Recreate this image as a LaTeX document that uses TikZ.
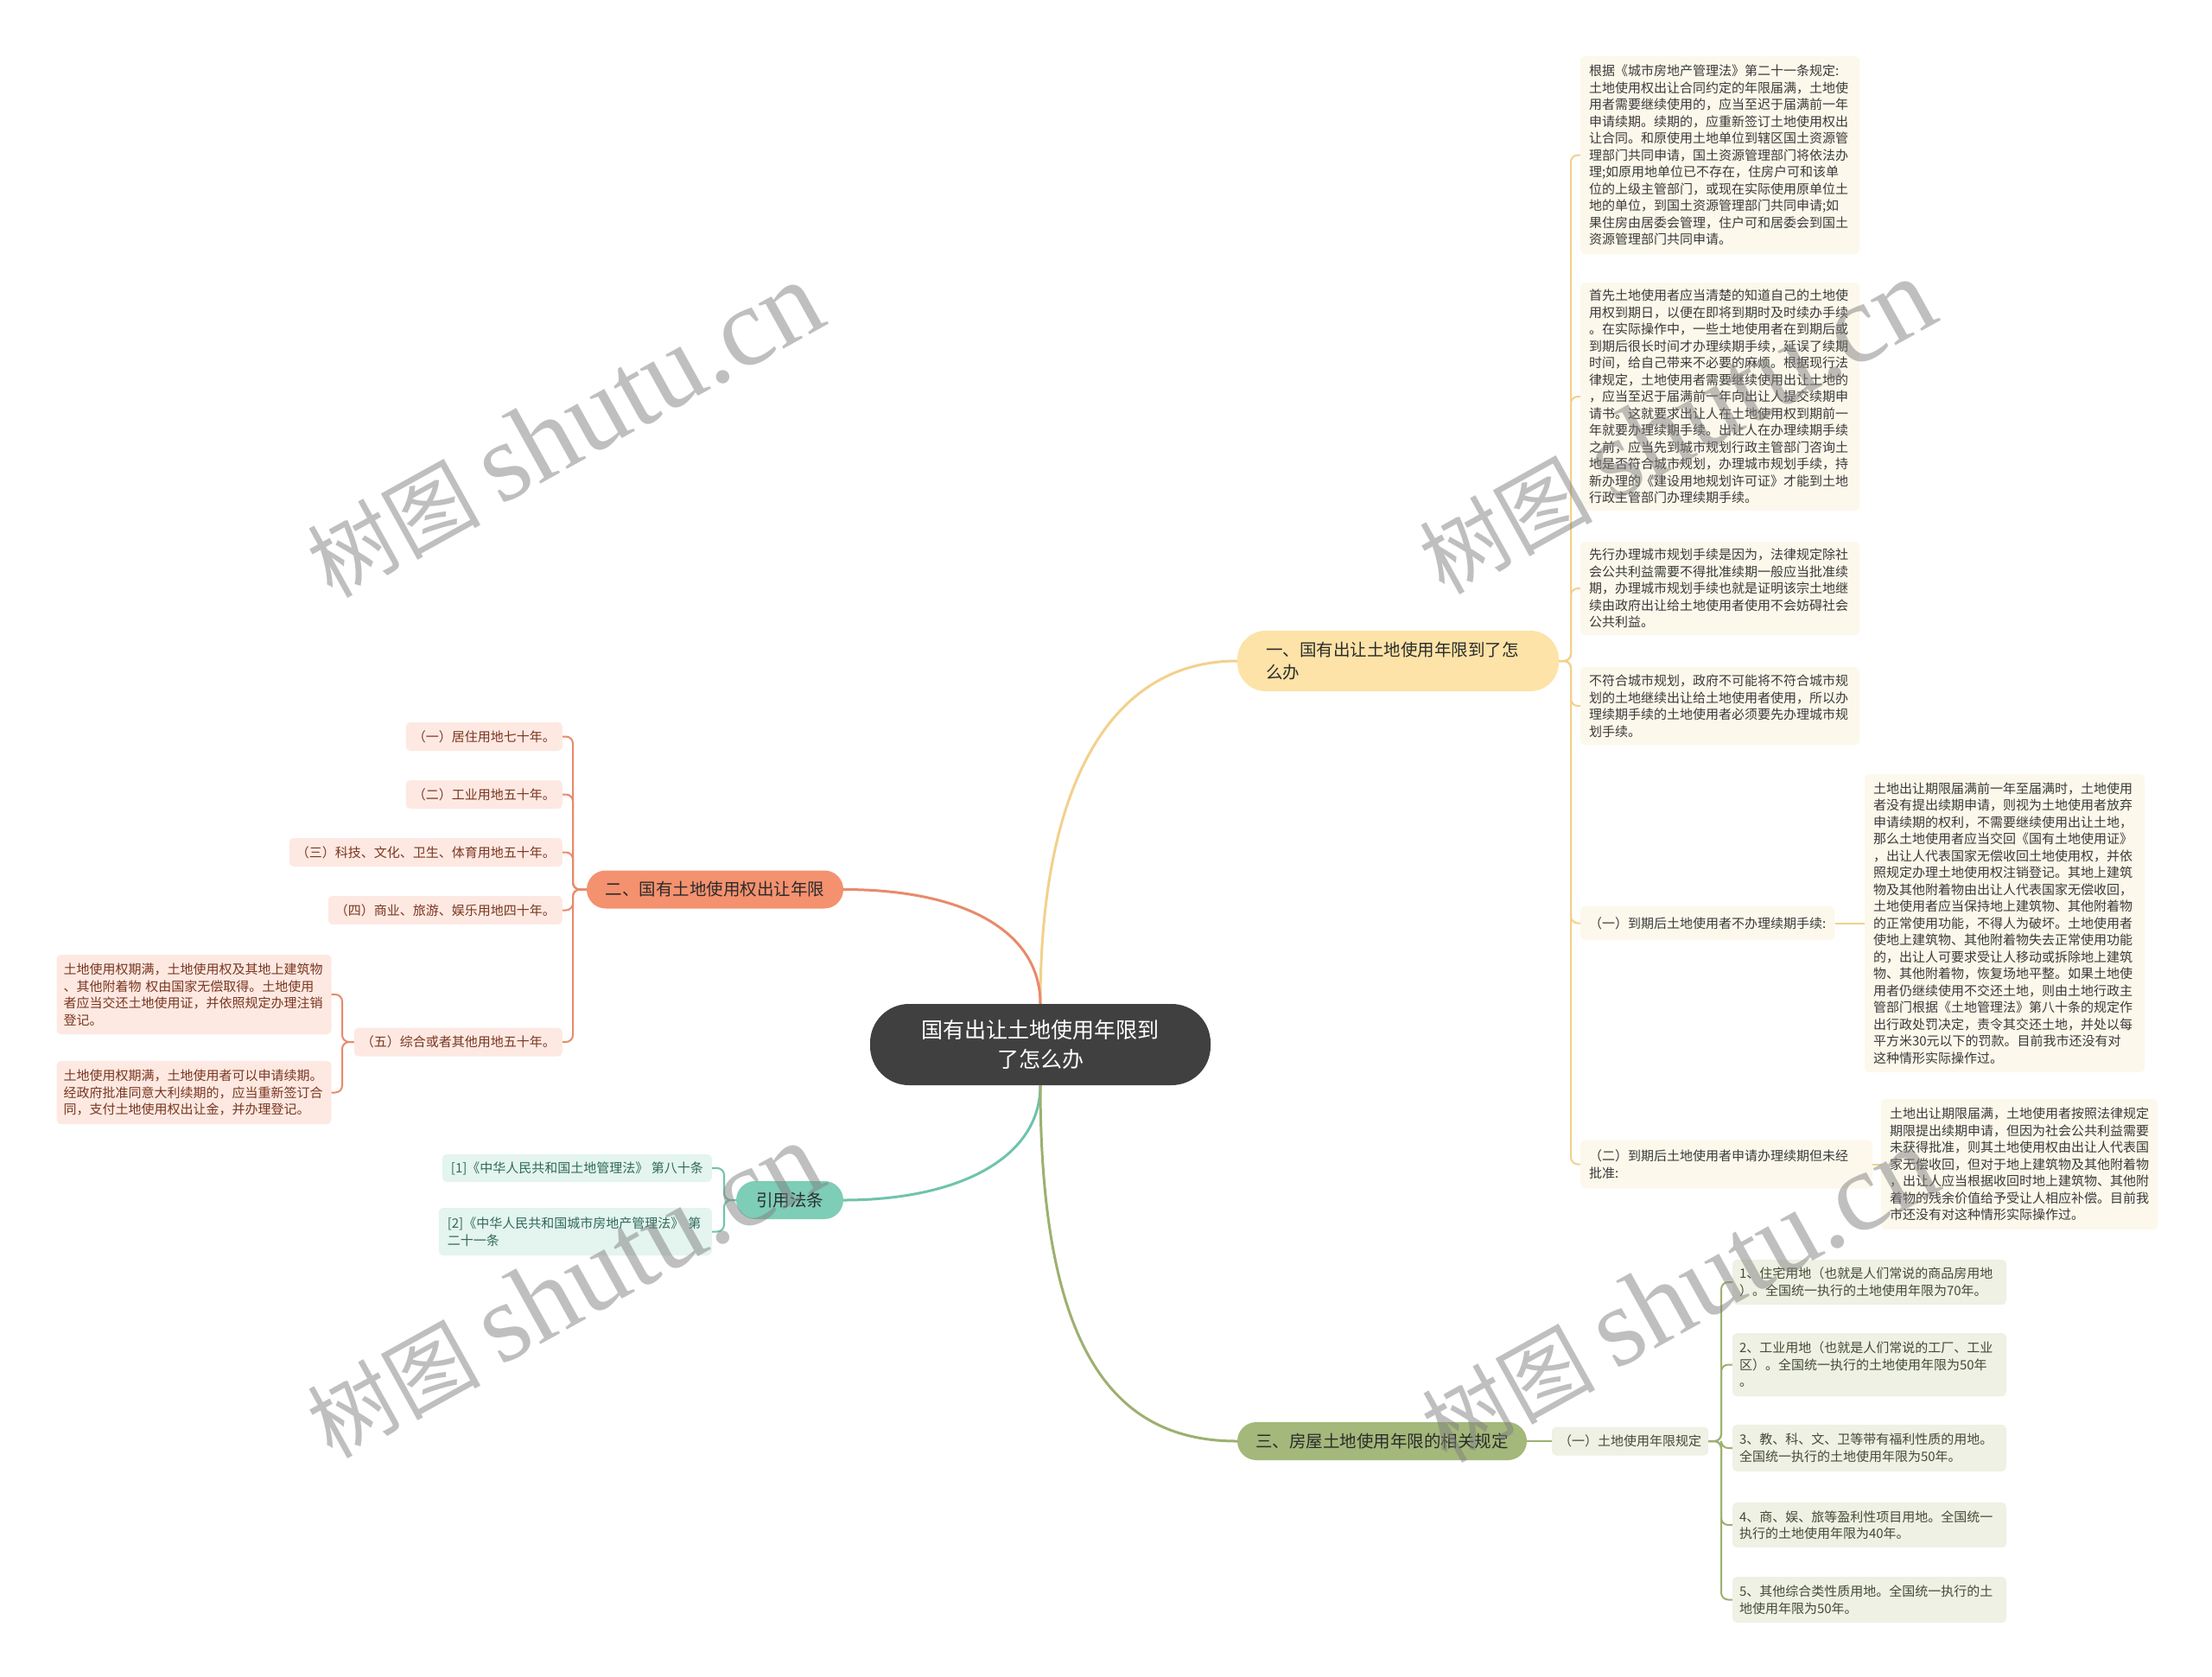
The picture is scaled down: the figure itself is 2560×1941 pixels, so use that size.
\documentclass[tikz,border=0pt]{standalone}
\usepackage{fontspec}
\setmainfont{Noto Sans CJK SC}
\newfontfamily\wmlatin{Liberation Serif}
\definecolor{cDark}{HTML}{404040}
\definecolor{cYelLn}{HTML}{F2D18B}
\definecolor{cYelF}{HTML}{FDE3A7}
\definecolor{cYelL}{HTML}{FCF8EB}
\definecolor{cSalF}{HTML}{F4916F}
\definecolor{cSalLn}{HTML}{E98A6B}
\definecolor{cSalL}{HTML}{FDE9E2}
\definecolor{cTealF}{HTML}{7ECDB6}
\definecolor{cTealLn}{HTML}{6FC3AC}
\definecolor{cTealL}{HTML}{E4F4EE}
\definecolor{cGrnF}{HTML}{A3B87A}
\definecolor{cGrnLn}{HTML}{9DB070}
\definecolor{cGrnL}{HTML}{EEF1E3}
\definecolor{cTxtY}{HTML}{3A3A3A}
\definecolor{cTxtS}{HTML}{7B3620}
\definecolor{cTxtT}{HTML}{2E6A5B}
\definecolor{cTxtG}{HTML}{454B36}
\definecolor{cTxtM}{HTML}{2B2B2B}
\tikzset{
  blk/.style={rounded corners=5, inner xsep=10, inner ysep=4, align=left},
  yblk/.style={blk, fill=cYelL, text=cTxtY},
  sblk/.style={blk, fill=cSalL, text=cTxtS, inner xsep=8},
  tblk/.style={blk, fill=cTealL, text=cTxtT},
  gblk/.style={blk, fill=cGrnL, text=cTxtG, inner xsep=8},
  fa/.style={font=\fontsize{15}{19.5}\selectfont},
  mainbr/.style={rounded corners=22, minimum height=44, align=center, text=cTxtM, font=\fontsize{19.5}{26}\selectfont, inner xsep=0, inner ysep=0},
  cline/.style={line width=3},
  bline/.style={line width=2, rounded corners=8},
  wm/.style={rotate=29, text=black!50, opacity=0.5, font=\fontsize{100}{100}\selectfont},
}
\begin{document}
\begin{tikzpicture}[x=1pt,y=-1pt]
\useasboundingbox (0,0) rectangle (2560,1941);
\fill[white] (0,0) rectangle (2560,1941);

% root
\node[fill=cDark, text=white, rounded corners=45, minimum width=394, minimum height=94, align=center, inner sep=0, font=\fontsize{25}{34}\selectfont] (root) at (1204,1209) {国有出让土地使用年限到\\了怎么办};

% main branches
\node[fill=cYelF, rounded corners=33, text width=306, inner xsep=33, inner ysep=0, minimum height=70, align=left, text=cTxtM, font=\fontsize{19.5}{26}\selectfont] (b1) at (1618,765) {一、国有出让土地使用年限到了怎\\么办};
\node[mainbr, fill=cSalF, minimum width=297] (b2) at (827.5,1029.5) {二、国有土地使用权出让年限};
\node[mainbr, fill=cTealF, minimum width=124] (rf) at (914,1389) {引用法条};
\node[mainbr, fill=cGrnF, minimum width=335] (b3) at (1599.5,1668) {三、房屋土地使用年限的相关规定};

% branch 1 children
\node[yblk,fa,text width=303,minimum height=229] (c1) at (1990.5,179.5) {根据《城市房地产管理法》第二十一条规定:\\土地使用权出让合同约定的年限届满，土地使\\用者需要继续使用的，应当至迟于届满前一年\\申请续期。续期的，应重新签订土地使用权出\\让合同。和原使用土地单位到辖区国土资源管\\理部门共同申请，国土资源管理部门将依法办\\理;如原用地单位已不存在，住房户可和该单\\位的上级主管部门，或现在实际使用原单位土\\地的单位，到国土资源管理部门共同申请;如\\果住房由居委会管理，住户可和居委会到国土\\资源管理部门共同申请。};
\node[yblk,fa,text width=303,minimum height=264] (c2) at (1990.5,459) {首先土地使用者应当清楚的知道自己的土地使\\用权到期日，以便在即将到期时及时续办手续\\。在实际操作中，一些土地使用者在到期后或\\到期后很长时间才办理续期手续，延误了续期\\时间，给自己带来不必要的麻烦。根据现行法\\律规定，土地使用者需要继续使用出让土地的\\，应当至迟于届满前一年向出让人提交续期申\\请书。这就要求出让人在土地使用权到期前一\\年就要办理续期手续。出让人在办理续期手续\\之前，应当先到城市规划行政主管部门咨询土\\地是否符合城市规划，办理城市规划手续，持\\新办理的《建设用地规划许可证》才能到土地\\行政主管部门办理续期手续。};
\node[yblk,fa,text width=303,minimum height=108] (c3) at (1990.5,681) {先行办理城市规划手续是因为，法律规定除社\\会公共利益需要不得批准续期一般应当批准续\\期，办理城市规划手续也就是证明该宗土地继\\续由政府出让给土地使用者使用不会妨碍社会\\公共利益。};
\node[yblk,fa,text width=303,minimum height=90] (c4) at (1990.5,817) {不符合城市规划，政府不可能将不符合城市规\\划的土地继续出让给土地使用者使用，所以办\\理续期手续的土地使用者必须要先办理城市规\\划手续。};
\node[yblk,fa,anchor=west,minimum height=39] (c5) at (1829,1068.5) {（一）到期后土地使用者不办理续期手续:};
\node[yblk,fa,text width=304,minimum height=345] (c5c) at (2320,1068.5) {土地出让期限届满前一年至届满时，土地使用\\者没有提出续期申请，则视为土地使用者放弃\\申请续期的权利，不需要继续使用出让土地，\\那么土地使用者应当交回《国有土地使用证》\\，出让人代表国家无偿收回土地使用权，并依\\照规定办理土地使用权注销登记。其地上建筑\\物及其他附着物由出让人代表国家无偿收回，\\土地使用者应当保持地上建筑物、其他附着物\\的正常使用功能，不得人为破坏。土地使用者\\使地上建筑物、其他附着物失去正常使用功能\\的，出让人可要求受让人移动或拆除地上建筑\\物、其他附着物，恢复场地平整。如果土地使\\用者仍继续使用不交还土地，则由土地行政主\\管部门根据《土地管理法》第八十条的规定作\\出行政处罚决定，责令其交还土地，并处以每\\平方米30元以下的罚款。目前我市还没有对\\这种情形实际操作过。};
\node[yblk,fa,text width=318,minimum height=56] (c6) at (1998,1347.5) {（二）到期后土地使用者申请办理续期但未经\\批准:};
\node[yblk,fa,text width=300,minimum height=151] (c6c) at (2337,1347.5) {土地出让期限届满，土地使用者按照法律规定\\期限提出续期申请，但因为社会公共利益需要\\未获得批准，则其土地使用权由出让人代表国\\家无偿收回，但对于地上建筑物及其他附着物\\，出让人应当根据收回时地上建筑物、其他附\\着物的残余价值给予受让人相应补偿。目前我\\市还没有对这种情形实际操作过。};

% branch 2 children
\node[sblk,fa,anchor=east,minimum height=33] (s1) at (651,852.5) {（一）居住用地七十年。};
\node[sblk,fa,anchor=east,minimum height=33] (s2) at (651,919.5) {（二）工业用地五十年。};
\node[sblk,fa,anchor=east,minimum height=33] (s3) at (651,986.5) {（三）科技、文化、卫生、体育用地五十年。};
\node[sblk,fa,anchor=east,minimum height=33] (s4) at (651,1053.5) {（四）商业、旅游、娱乐用地四十年。};
\node[sblk,fa,anchor=east,minimum height=33] (s5) at (651,1206) {（五）综合或者其他用地五十年。};
\node[sblk,fa,text width=302,minimum height=92] (s5a) at (224.5,1151) {土地使用权期满，土地使用权及其地上建筑物\\、其他附着物 权由国家无偿取得。土地使用\\者应当交还土地使用证，并依照规定办理注销\\登记。};
\node[sblk,fa,text width=302,minimum height=73] (s5b) at (224.5,1264.5) {土地使用权期满，土地使用者可以申请续期。\\经政府批准同意大利续期的，应当重新签订合\\同，支付土地使用权出让金，并办理登记。};

% citation children
\node[tblk,fa,anchor=east,minimum height=32] (r1) at (824,1352) {[1]《中华人民共和国土地管理法》 第八十条};
\node[tblk,fa,anchor=east,text width=296,minimum height=55] (r2) at (824,1425.5) {[2]《中华人民共和国城市房地产管理法》 第\\二十一条};

% branch 3 children
\node[gblk,fa,anchor=west,minimum height=33] (g0) at (1796,1668) {（一）土地使用年限规定};
\node[gblk,fa,text width=301,minimum height=52] (g1) at (2163.5,1484) {1、住宅用地（也就是人们常说的商品房用地\\）。全国统一执行的土地使用年限为70年。};
\node[gblk,fa,text width=301,minimum height=73] (g2) at (2163.5,1579.5) {2、工业用地（也就是人们常说的工厂、工业\\区）。全国统一执行的土地使用年限为50年\\。};
\node[gblk,fa,text width=301,minimum height=54] (g3) at (2163.5,1676) {3、教、科、文、卫等带有福利性质的用地。\\全国统一执行的土地使用年限为50年。};
\node[gblk,fa,text width=301,minimum height=52] (g4) at (2163.5,1765) {4、商、娱、旅等盈利性项目用地。全国统一\\执行的土地使用年限为40年。};
\node[gblk,fa,text width=301,minimum height=53] (g5) at (2163.5,1851.5) {5、其他综合类性质用地。全国统一执行的土\\地使用年限为50年。};

% root connectors
\draw[cline, cYelLn] (root.north) .. controls (1204,900) and (1290,765) .. (b1.west);
\draw[cline, cSalLn] (root.north) .. controls (1204,1080) and (1120,1029.5) .. (b2.east);
\draw[cline, cTealLn] (root.south) .. controls (1204,1340) and (1110,1389) .. (rf.east);
\draw[cline, cGrnLn] (root.south) .. controls (1204,1580) and (1300,1668) .. (b3.west);

% brackets
\foreach \c in {c1,c2,c3,c4,c5,c6}
  \draw[bline, cYelLn] (b1.east) -- (1818,765) |- (\c.west);
\draw[line width=2, cYelLn] (c5.east) -- (c5.east -| c5c.west);
\draw[line width=2, cYelLn] (c6.east) -- (c6.east -| c6c.west);
\foreach \c in {s1,s2,s3,s4,s5}
  \draw[bline, cSalLn] (b2.west) -- (663,1029.5) |- (\c.east);
\foreach \c in {s5a,s5b}
  \draw[bline, cSalLn] (s5.west) -- (396,1206) |- (\c.east);
\foreach \c in {r1,r2}
  \draw[bline, cTealLn] (rf.west) -- (838,1389) |- (\c.east);
\draw[line width=2, cGrnLn] (b3.east) -- (g0.west);
\foreach \c in {g1,g2,g3,g4,g5}
  \draw[bline, cGrnLn] (g0.east) -- (1992,1668) |- (\c.west);

% watermarks
\node[wm] (wm1) at (653,498) {树图 {\wmlatin\fontsize{130}{130}\selectfont shutu.cn}};
\node[wm] (wm2) at (1940,494) {树图 {\wmlatin\fontsize{130}{130}\selectfont shutu.cn}};
\node[wm] (wm3) at (653,1494) {树图 {\wmlatin\fontsize{130}{130}\selectfont shutu.cn}};
\node[wm] (wm4) at (1943,1499) {树图 {\wmlatin\fontsize{130}{130}\selectfont shutu.cn}};
\end{tikzpicture}
\end{document}
